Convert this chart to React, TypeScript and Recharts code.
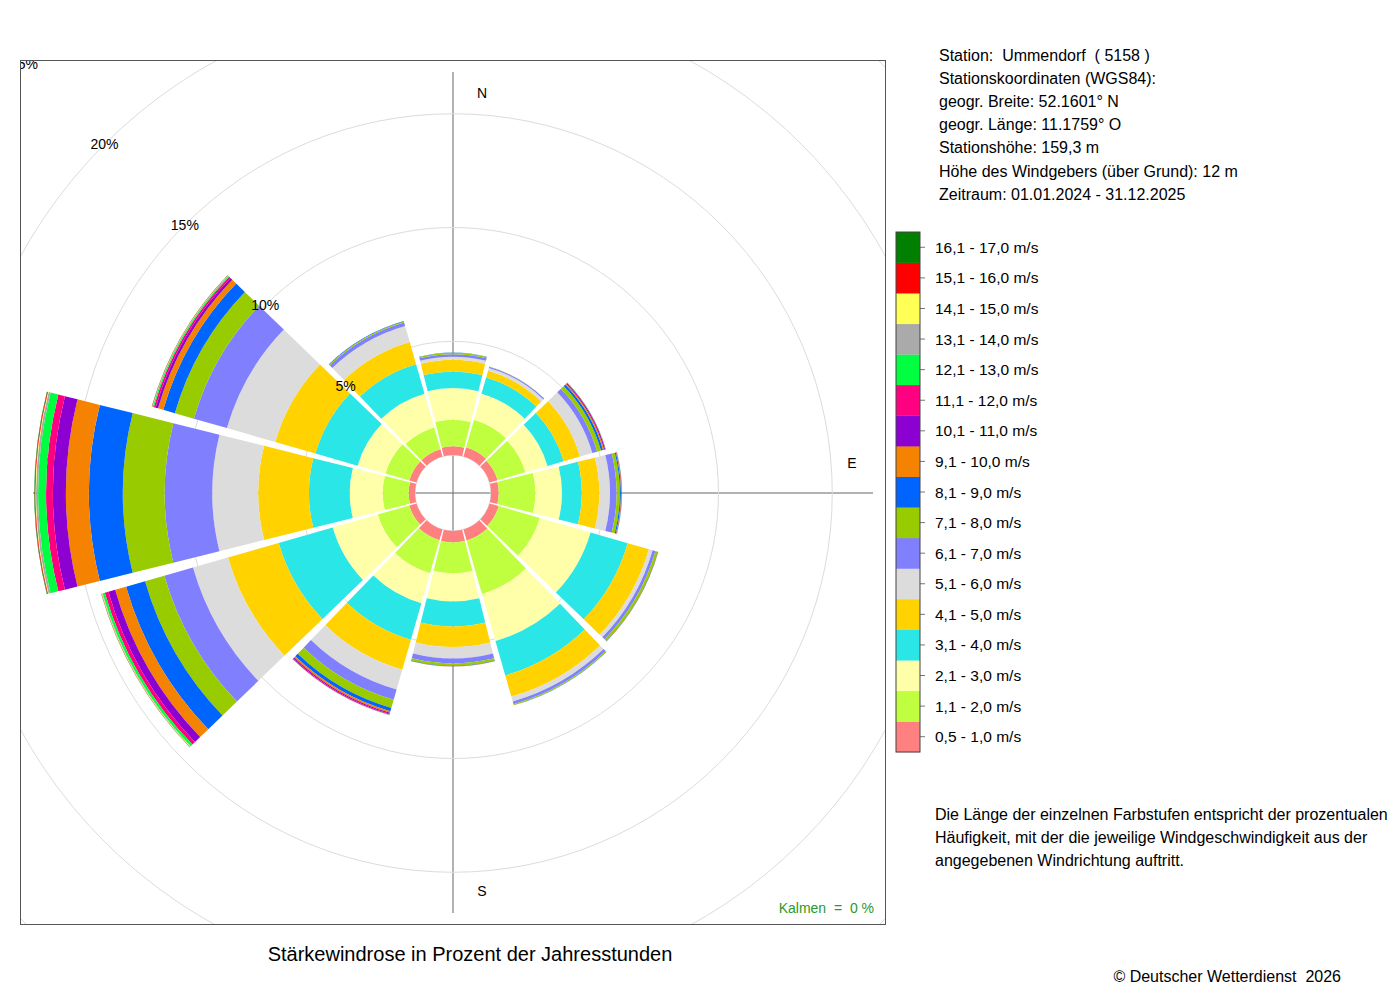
import React from 'react';
import { RadialBarChart, RadialBar, PolarGrid, PolarAngleAxis, PolarRadiusAxis } from 'recharts';

const FONT = "'Liberation Sans', Arial, Helvetica, sans-serif";

// Wind directions (clockwise from north, 30° sectors)
const directions = ['N', '30', '60', 'O', '120', '150', 'S', '210', '240', 'W', '300', '330'];

// Speed classes (inner to outer)
const speedLabels = [
  '0,5 - 1,0 m/s', '1,1 - 2,0 m/s', '2,1 - 3,0 m/s', '3,1 - 4,0 m/s', '4,1 - 5,0 m/s',
  '5,1 - 6,0 m/s', '6,1 - 7,0 m/s', '7,1 - 8,0 m/s', '8,1 - 9,0 m/s', '9,1 - 10,0 m/s',
  '10,1 - 11,0 m/s', '11,1 - 12,0 m/s', '12,1 - 13,0 m/s', '13,1 - 14,0 m/s',
  '14,1 - 15,0 m/s', '15,1 - 16,0 m/s', '16,1 - 17,0 m/s',
];
const bandColors = [
  '#FF8080', '#BFFF3F', '#FFFFAA', '#2AE6E6', '#FFD200', '#DCDCDC', '#8080FF', '#99CC00',
  '#0064FF', '#F58200', '#8C00D2', '#FF0080', '#00FF40', '#AAAAAA', '#FFFF55', '#FF0000', '#007F00',
];

// Percent of annual hours per speed class, one array per direction
const dirN = [0.38, 1.17, 1.39, 0.73, 0.51, 0.14, 0.11, 0.06, 0.01, 0, 0, 0, 0, 0, 0, 0, 0];
const dir030 = [0.42, 1.26, 1.19, 0.74, 0.31, 0.13, 0.05, 0.01, 0, 0, 0, 0, 0, 0, 0, 0, 0];
const dir060 = [0.37, 1.27, 1.01, 0.74, 0.75, 0.56, 0.22, 0.18, 0.09, 0.06, 0.04, 0.02, 0.01, 0, 0, 0, 0];
const dirO = [0.34, 1.61, 1.17, 0.87, 0.77, 0.47, 0.29, 0.14, 0.05, 0.02, 0.01, 0.01, 0.01, 0, 0, 0, 0];
const dir120 = [0.42, 1.88, 2.32, 1.70, 0.97, 0.17, 0.13, 0.10, 0.02, 0.01, 0, 0, 0, 0, 0, 0, 0];
const dir150 = [0.50, 2.45, 2.15, 1.57, 0.97, 0.22, 0.13, 0.04, 0.01, 0, 0, 0, 0, 0, 0, 0, 0];
const dirS = [0.50, 1.36, 1.24, 1.10, 0.90, 0.50, 0.22, 0.10, 0.02, 0.01, 0, 0, 0, 0, 0, 0, 0];
const dir210 = [0.49, 1.51, 1.37, 1.67, 1.37, 0.91, 0.46, 0.38, 0.15, 0.07, 0.05, 0.04, 0.01, 0.01, 0, 0, 0];
const dir240 = [0.33, 1.44, 2.06, 2.47, 2.32, 1.60, 1.31, 0.88, 0.87, 0.50, 0.31, 0.16, 0.10, 0.03, 0.02, 0.01, 0.01];
const dirW = [0.28, 1.14, 1.45, 1.79, 2.23, 2.02, 2.09, 1.84, 1.49, 1.01, 0.57, 0.30, 0.35, 0.09, 0.03, 0.03, 0.02];
const dir300 = [0.33, 1.09, 1.27, 1.93, 1.84, 2.21, 1.51, 0.87, 0.53, 0.24, 0.11, 0.08, 0.05, 0.02, 0.01, 0.01, 0.01];
const dir330 = [0.33, 1.00, 1.54, 1.35, 1.01, 0.74, 0.16, 0.04, 0.02, 0, 0, 0, 0, 0, 0, 0, 0];

const radiusTicks = [0, 5, 10, 15, 20, 25];
const compassLabels = ['N', 'E', 'S', 'W'];

const stationLines = [
  'Station:  Ummendorf  ( 5158 )',
  'Stationskoordinaten (WGS84):',
  'geogr. Breite: 52.1601° N',
  'geogr. Länge: 11.1759° O',
  'Stationshöhe: 159,3 m',
  'Höhe des Windgebers (über Grund): 12 m',
  'Zeitraum: 01.01.2024 - 31.12.2025',
];
const noteLines = [
  'Die Länge der einzelnen Farbstufen entspricht der prozentualen',
  'Häufigkeit, mit der die jeweilige Windgeschwindigkeit aus der',
  'angegebenen Windrichtung auftritt.',
];

const dirValues = [dirN, dir030, dir060, dirO, dir120, dir150, dirS, dir210, dir240, dirW, dir300, dir330];
const data = directions.map((d, i) => {
  const row: Record<string, any> = { dir: d };
  dirValues[i].forEach((v, j) => {
    row['b' + j] = v;
  });
  return row;
});

// Layout
const BOX_X = 20;
const BOX_Y = 60;
const BOX_W = 866;
const BOX_H = 865;
const CX = 433;
const CY = 433;
const INNER_R = 38;
const PX_PER_PCT = 22.75;
const OUTER_R = INNER_R + PX_PER_PCT * 25;

const RadiusTick = (props: any) => {
  const { x, y, payload } = props;
  if (!payload || payload.value === 0) return <g />;
  return (
    <text x={x} y={y} textAnchor="middle" dominantBaseline="central" fontSize={14} fill="#000" fontFamily={FONT}>
      {payload.value}%
    </text>
  );
};

export default function App() {
  const legendTop = 232;
  const legendH = 520;
  const cellH = legendH / speedLabels.length;
  const labelR = 400;
  const compassPos = [
    { x: CX + 29, y: CY - labelR },
    { x: CX + labelR - 1, y: CY - 30 },
    { x: CX + 29, y: CY + labelR - 2 },
    { x: CX - labelR, y: CY - 30 },
  ];
  return (
    <div style={{ position: 'absolute', left: 0, top: 0, width: 1400, height: 1000, background: '#fff', fontFamily: FONT }}>
      <div style={{ position: 'absolute', left: BOX_X, top: BOX_Y, width: BOX_W, height: BOX_H, overflow: 'hidden' }}>
        <svg width={BOX_W} height={BOX_H} style={{ position: 'absolute', left: 0, top: 0 }}>
          <line x1={CX} y1={CY - 421} x2={CX} y2={CY + 420} stroke="#666" strokeWidth={1} />
          <line x1={CX - 420} y1={CY} x2={CX + 420} y2={CY} stroke="#666" strokeWidth={1} />
          {compassLabels.map((c, i) => (
            <text key={c} x={compassPos[i].x} y={compassPos[i].y} textAnchor="middle" dominantBaseline="central" fontSize={14} fill="#000" fontFamily={FONT}>
              {c}
            </text>
          ))}
        </svg>
        <div style={{ position: 'absolute', left: 0, top: 0 }}>
          <RadialBarChart
            width={BOX_W}
            height={BOX_H}
            cx={CX}
            cy={CY}
            innerRadius={INNER_R}
            outerRadius={OUTER_R}
            startAngle={75}
            endAngle={-285}
            data={data}
            layout="centric"
            barCategoryGap="3.3%"
          >
            <PolarGrid gridType="circle" radialLines={false} stroke="#dcdcdc" strokeWidth={1} />
            <PolarAngleAxis type="category" dataKey="dir" axisLine={false} tickLine={false} tick={false} />
            {speedLabels.map((s, j) => (
              <RadialBar key={s} dataKey={'b' + j} name={s} stackId="a" fill={bandColors[j]} isAnimationActive={false} />
            ))}
            <PolarRadiusAxis
              type="number"
              domain={[0, 25]}
              ticks={radiusTicks}
              angle={135}
              axisLine={false}
              tickLine={false}
              tick={<RadiusTick />}
            />
          </RadialBarChart>
        </div>
      </div>
      <svg width={1400} height={1000} style={{ position: 'absolute', left: 0, top: 0, pointerEvents: 'none' }}>
        <rect x={BOX_X + 0.5} y={BOX_Y + 0.5} width={BOX_W - 1} height={BOX_H - 1} fill="none" stroke="#555" strokeWidth={1} />
        <text x={874} y={908} textAnchor="end" dominantBaseline="central" fontSize={14} fill="#2A9A2A" fontFamily={FONT} style={{ whiteSpace: 'pre' }}>
          {'Kalmen  =  0 %'}
        </text>
        <text x={470} y={954} textAnchor="middle" dominantBaseline="central" fontSize={20} fill="#000" fontFamily={FONT}>
          Stärkewindrose in Prozent der Jahresstunden
        </text>
        <text x={1341} y={976} textAnchor="end" dominantBaseline="central" fontSize={16} fill="#000" fontFamily={FONT} style={{ whiteSpace: 'pre' }}>
          {'© Deutscher Wetterdienst  2026'}
        </text>
        {stationLines.map((t, i) => (
          <text key={t} x={939} y={55 + i * 23.2} dominantBaseline="central" fontSize={16} fill="#000" fontFamily={FONT} style={{ whiteSpace: 'pre' }}>
            {t}
          </text>
        ))}
        {noteLines.map((t, i) => (
          <text key={t} x={935} y={814 + i * 23} dominantBaseline="central" fontSize={16} fill="#000" fontFamily={FONT}>
            {t}
          </text>
        ))}
        {speedLabels.map((s, j) => {
          const y = legendTop + (speedLabels.length - 1 - j) * cellH;
          return (
            <g key={s}>
              <rect x={896} y={y} width={24} height={cellH + 0.3} fill={bandColors[j]} />
              <line x1={920} y1={y + cellH / 2} x2={925} y2={y + cellH / 2} stroke="#777" strokeWidth={1} />
              <text x={935} y={y + cellH / 2} dominantBaseline="central" fontSize={15.5} fill="#000" fontFamily={FONT}>
                {s}
              </text>
            </g>
          );
        })}
        <rect x={896} y={legendTop} width={24} height={legendH} fill="none" stroke="#444" strokeWidth={1} />
      </svg>
    </div>
  );
}
